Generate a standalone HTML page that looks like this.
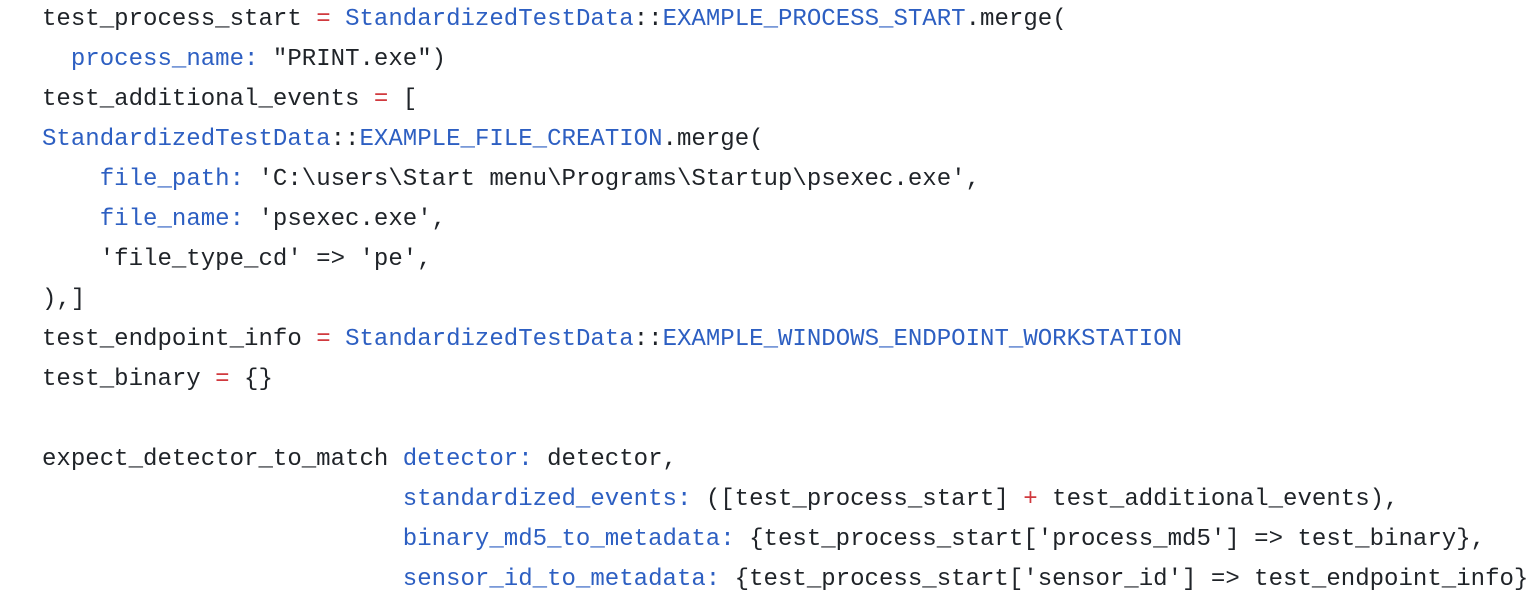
<!DOCTYPE html>
<html><head><meta charset="utf-8"><style>
html,body{margin:0;padding:0;background:#fff;width:1536px;height:606px;overflow:hidden}
pre{position:absolute;left:42px;top:0px;margin:0;font-family:"Liberation Mono",monospace;font-size:24.05px;line-height:40px;color:#1f2328}
.b{color:#2d5fc2}.r{color:#d0393e}
</style></head><body><pre>test_process_start <span class="r">=</span> <span class="b">StandardizedTestData</span>::<span class="b">EXAMPLE_PROCESS_START</span>.merge(
  <span class="b">process_name:</span> "PRINT.exe")
test_additional_events <span class="r">=</span> [
<span class="b">StandardizedTestData</span>::<span class="b">EXAMPLE_FILE_CREATION</span>.merge(
    <span class="b">file_path:</span> 'C:\users\Start menu\Programs\Startup\psexec.exe',
    <span class="b">file_name:</span> 'psexec.exe',
    'file_type_cd' =&gt; 'pe',
),]
test_endpoint_info <span class="r">=</span> <span class="b">StandardizedTestData</span>::<span class="b">EXAMPLE_WINDOWS_ENDPOINT_WORKSTATION</span>
test_binary <span class="r">=</span> {}

expect_detector_to_match <span class="b">detector:</span> detector,
                         <span class="b">standardized_events:</span> ([test_process_start] <span class="r">+</span> test_additional_events),
                         <span class="b">binary_md5_to_metadata:</span> {test_process_start['process_md5'] =&gt; test_binary},
                         <span class="b">sensor_id_to_metadata:</span> {test_process_start['sensor_id'] =&gt; test_endpoint_info}
</pre></body></html>
